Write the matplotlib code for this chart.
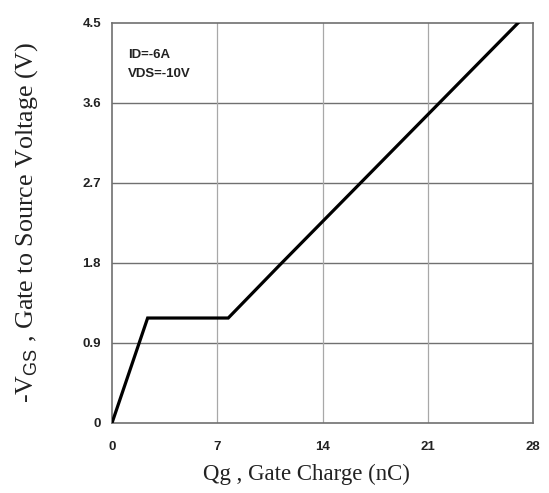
import matplotlib
matplotlib.use("Agg")
import matplotlib.pyplot as plt

# gate charge curve
qg = [0, 2.37, 7.73, 11.12, 27.02]
vgs = [0, 1.18, 1.18, 1.77, 4.50]

x_ticks = [0, 7, 14, 21, 28]
y_ticks = [0, 0.9, 1.8, 2.7, 3.6, 4.5]
y_tick_labels = ['0', '0.9', '1.8', '2.7', '3.6', '4.5']

plt.rcParams['mathtext.fontset'] = 'custom'
plt.rcParams['mathtext.rm'] = 'Liberation Sans'

fig = plt.figure(figsize=(5.49, 4.93), dpi=100)
ax = fig.add_axes([0.204, 0.142, 0.767, 0.812])

ax.plot(qg, vgs, color='black', lw=2.3, solid_joinstyle='miter', zorder=3)

ax.set_xlim(0, 28)
ax.set_ylim(0, 4.5)
ax.set_xticks(x_ticks)
ax.set_yticks(y_ticks)
ax.set_yticklabels(y_tick_labels)

# grid: horizontal lines a bit darker than the vertical ones
for y in y_ticks[1:-1]:
    ax.axhline(y, color='#707070', lw=1.0, zorder=1)
for x in x_ticks[1:-1]:
    ax.axvline(x, color='#a8a8a8', lw=0.9, zorder=1)

for s in ax.spines.values():
    s.set_color('#707070')
    s.set_linewidth(1.2)

ax.tick_params(length=0)
ax.tick_params(axis='y', pad=8)
ax.tick_params(axis='x', pad=13)
for lab in ax.get_xticklabels() + ax.get_yticklabels():
    lab.set_family('Liberation Sans')
    lab.set_fontweight('bold')
    lab.set_fontsize(9.5)
    lab.set_color('#222222')

ax.text(1.05, 4.03, 'ID=-6A\nVDS=-10V', family='Liberation Sans', fontweight='bold',
        fontsize=9.5, color='#222222', linespacing=1.85, va='center', ha='left')

ax.set_xlabel('Qg , Gate Charge (nC)', family='Liberation Serif', fontsize=16.5,
              color='#222222')
ax.set_ylabel(r'-V$_{\mathrm{GS}}$ , Gate to Source Voltage (V)', family='Liberation Serif',
              fontsize=18.7, color='#222222')
# label positions in pixels from the reference
ax.xaxis.set_label_coords((306 - 112) / 421, 1 - (474 - 22.7) / 400.3)
ax.xaxis.label.set_va('center')
ax.yaxis.set_label_coords((27 - 112) / 421, 0.5)
ax.yaxis.label.set_va('center')

fig.savefig('out.png', dpi=100)
